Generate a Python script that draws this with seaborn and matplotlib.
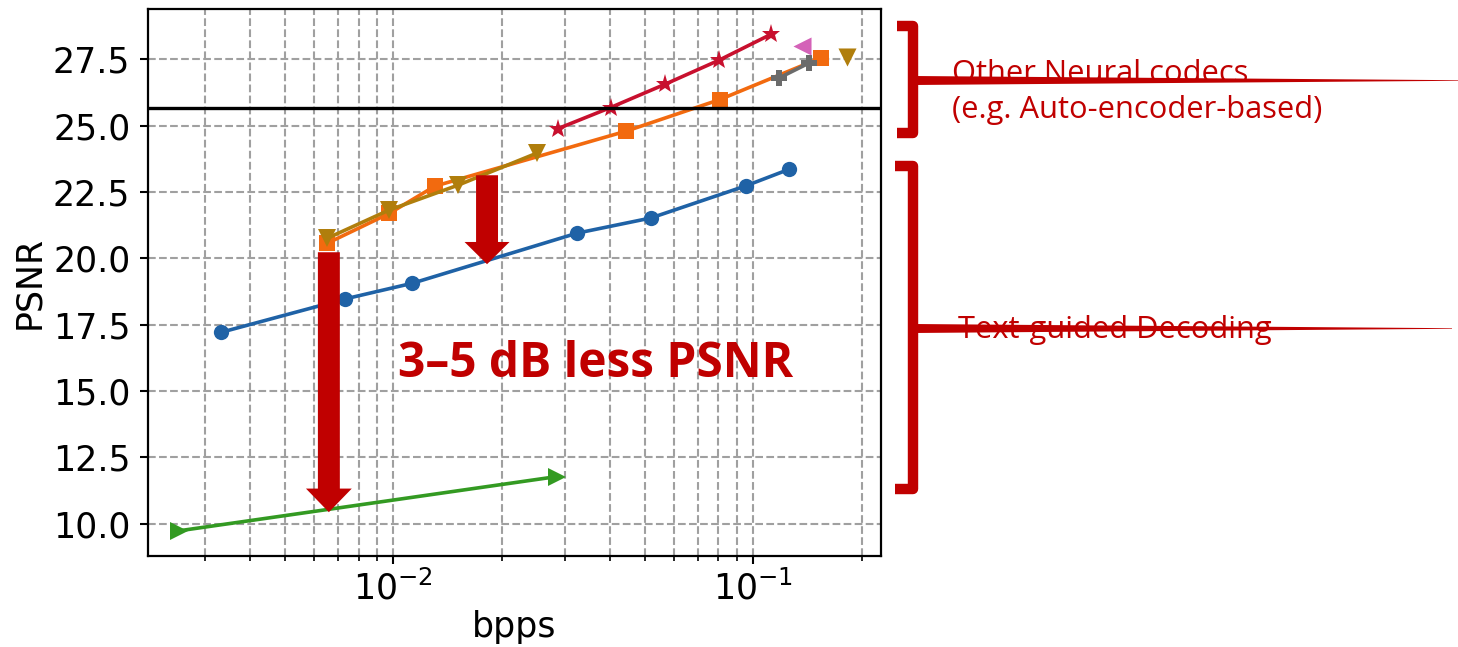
import matplotlib
matplotlib.use("Agg")
import matplotlib.pyplot as plt
import matplotlib.ticker as mticker
from matplotlib.lines import Line2D
from matplotlib.patches import Polygon
import numpy as np
import pandas as pd
import seaborn as sns

# ---------------- data ----------------
blue_x = [0.00331, 0.00733, 0.01127, 0.0324, 0.0519, 0.0953, 0.126]
blue_y = [17.21, 18.47, 19.06, 20.95, 21.52, 22.73, 23.36]

orange_x = [0.00653, 0.00973, 0.01304, 0.0443, 0.0807, 0.154]
orange_y = [20.56, 21.69, 22.72, 24.79, 25.98, 27.55]

brown_x = [0.00653, 0.00973, 0.01514, 0.0250]
brown_y = [20.75, 21.82, 22.76, 23.96]
brown_single_x = [0.182]
brown_single_y = [27.58]

red_x = [0.0287, 0.0401, 0.0569, 0.0802, 0.1120]
red_y = [24.89, 25.68, 26.56, 27.46, 28.44]

gray_x = [0.1181, 0.143]
gray_y = [26.80, 27.36]

pink_x = [0.1365]
pink_y = [27.99]

green_x = [0.00254, 0.0284]
green_y = [9.74, 11.78]

reference_psnr = 25.67

y_ticks = [10.0, 12.5, 15.0, 17.5, 20.0, 22.5, 25.0, 27.5]

# annotation arrows (data coords): (x, y_tail, y_tip)
arrow_big = (0.006616, 20.23, 10.44)
arrow_small = (0.01820, 23.13, 19.78)

# ---------------- style ----------------
sns.set_style("ticks")
plt.rcParams['font.family'] = ['DejaVu Sans']
plt.rcParams['text.color'] = 'black'
plt.rcParams['axes.labelcolor'] = 'black'
plt.rcParams['xtick.color'] = 'black'
plt.rcParams['ytick.color'] = 'black'

W, H = 1458, 647
fig = plt.figure(figsize=(W / 100, H / 100), dpi=100)
ax = fig.add_axes([147.7 / W, 1 - 556 / H, (881 - 147.7) / W, (556 - 9.3) / H])

RED = "#c00000"
C_BLUE = "#1f62a6"
C_ORANGE = "#f26a0f"
C_BROWN = "#b07e0c"
C_RED = "#c8102e"
C_GRAY = "#6b6b6b"
C_PINK = "#d462b8"
C_GREEN = "#339a22"

lw = 2.6


def line(xs, ys, color, marker, ms, z):
    df = pd.DataFrame({"bpps": xs, "PSNR": ys})
    sns.lineplot(data=df, x="bpps", y="PSNR", ax=ax, color=color, marker=marker,
                 markersize=ms, linewidth=lw, markeredgewidth=0,
                 markeredgecolor=color, sort=False, zorder=z)


def point(xs, ys, color, marker, ms, z):
    df = pd.DataFrame({"bpps": xs, "PSNR": ys})
    sns.scatterplot(data=df, x="bpps", y="PSNR", ax=ax, color=color, marker=marker,
                    s=ms ** 2, linewidth=0, zorder=z)


ax.set_xscale("log")
line(blue_x, blue_y, C_BLUE, "o", 11, 3)
line(orange_x, orange_y, C_ORANGE, "s", 12, 3)
line(brown_x, brown_y, C_BROWN, "v", 13, 4)
line(red_x, red_y, C_RED, "*", 14, 3)
line(gray_x, gray_y, C_GRAY, "P", 12, 4)
line(green_x, green_y, C_GREEN, ">", 13, 3)
point(pink_x, pink_y, C_PINK, "<", 13, 4)
point(brown_single_x, brown_single_y, C_BROWN, "v", 13, 4)

ax.axhline(reference_psnr, color="black", lw=2.4, zorder=5)

ax.set_xlim(0.002076, 0.2263)
ax.set_ylim(8.79, 29.38)
ax.set_yticks(y_ticks)
ax.yaxis.set_major_formatter(mticker.FormatStrFormatter("%.1f"))
ax.xaxis.set_minor_formatter(mticker.NullFormatter())

ax.grid(True, which="both", axis="x", ls="--", color="#a0a0a0", lw=1.5)
ax.grid(True, which="major", axis="y", ls="--", color="#a0a0a0", lw=1.5)

for s in ax.spines.values():
    s.set_linewidth(1.6)
    s.set_color("black")

ax.tick_params(axis="both", which="major", labelsize=25, length=5.5, width=1.5,
               color="black", labelcolor="black", pad=5)
ax.tick_params(axis="x", which="minor", length=3.5, width=1.2, color="black")
ax.tick_params(axis="y", which="major", pad=7)

ax.set_xlabel("bpps", fontsize=25, labelpad=2, color="black")
ax.set_ylabel("PSNR", fontsize=25, labelpad=5, color="black")

# arrows
for (xa, yt, yh), hl, hw in [(arrow_big, 17, 33), (arrow_small, 16, 32.4)]:
    ax.annotate("", xy=(xa, yh), xytext=(xa, yt),
                arrowprops=dict(arrowstyle=f"simple,head_length={hl},head_width={hw},tail_width=15.8",
                                mutation_scale=1, color=RED, lw=0, shrinkA=0, shrinkB=0),
                zorder=10)


def fx(x):
    return x / W


def fy(y):
    return 1 - y / H


fig.text(fx(398), fy(377), "3\u20135 dB less PSNR", fontsize=34.5, fontweight="bold",
         color=RED, family=["Open Sans", "DejaVu Sans"], ha="left", va="baseline", zorder=20)

# right-side brackets
for (yt, yb, xl) in [(26, 133, 897), (166, 489, 895)]:
    fig.add_artist(Line2D([fx(xl), fx(913), fx(913), fx(xl)],
                          [fy(yt), fy(yt), fy(yb), fy(yb)],
                          color=RED, lw=7.5, solid_joinstyle="round",
                          solid_capstyle="butt", transform=fig.transFigure))

# tapered leader lines
for yc, xend in [(80.5, 1458), (328.5, 1452)]:
    poly = Polygon([(fx(913), fy(yc - 4.5)), (fx(xend), fy(yc - 0.3)),
                    (fx(xend), fy(yc + 0.3)), (fx(913), fy(yc + 4.5))],
                   closed=True, color=RED, lw=0, transform=fig.transFigure)
    fig.add_artist(poly)

txt_kw = dict(color=RED, fontsize=22.2, family=["Open Sans", "DejaVu Sans"],
              ha="left", va="baseline")
fig.text(fx(952), fy(82), "Other Neural codecs", **txt_kw)
fig.text(fx(952), fy(118), "(e.g. Auto-encoder-based)", **txt_kw)
fig.text(fx(958), fy(338), "Text-guided Decoding", **txt_kw)

fig.savefig("out.png", dpi=100)
